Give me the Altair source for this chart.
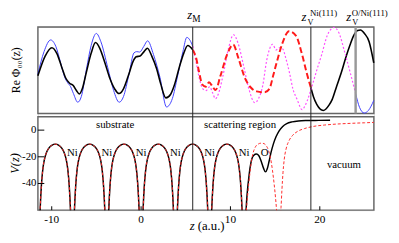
import altair as alt
import pandas as pd

FONT = "Liberation Serif"

# ---------------- axes / domains ----------------
X_DOMAIN = [-11.55, 26.05]
X_TICKS = [-10, 0, 10, 20]
TOP_DOMAIN = [-1.0, 1.0]
V_DOMAIN = [-60, 10]
V_TICKS = [0, -20, -40]

Z_M = 5.78
Z_V_NI = 19.00
Z_V_ONI = 24.01

# ---------------- top panel: Re Phi_00(z) ----------------
blue_sub_z = [-11.55, -10.86, -10.12, -9.54, -8.99, -8.55, -8.22, -7.89, -7.57, -7.09,
              -6.69, -6.11, -5.59, -5.01, -4.50, -3.73, -3.07, -2.45, -1.97, -1.35,
              -0.80, -0.49, -0.16, 0.30, 0.73, 1.39, 2.12, 2.85, 3.51, 4.06,
              4.68, 5.12, 5.48, 5.78]
blue_sub_v = [-0.09, 0.43, 0.70, 0.55, 0.16, -0.16, -0.29, -0.38, -0.54, -0.74,
              -0.61, 0.03, 0.57, 0.85, 0.66, 0.06, -0.47, -0.74, -0.61, -0.09,
              0.40, 0.43, 0.42, 0.55, 0.68, 0.36, -0.17, -0.85, -0.65, -0.16,
              0.43, 0.76, 0.69, 0.55]
blue_vac_z = [24.01, 24.45, 24.97, 25.44, 26.04]
blue_vac_v = [-0.54, -0.86, -0.99, -0.93, -0.70]

black_sub_z = [-11.55, -10.75, -9.98, -9.43, -8.88, -8.44, -8.00, -7.57, -7.24, -6.91,
               -6.58, -6.14, -5.59, -5.10, -4.61, -4.06, -3.51, -2.96, -2.47, -1.97,
               -1.43, -0.88, -0.55, -0.11, 0.33, 0.71, 1.21, 1.75, 2.19, 2.77,
               3.29, 3.73, 4.28, 4.77, 5.23, 5.78]
black_sub_v = [-0.13, 0.32, 0.52, 0.39, 0.07, -0.18, -0.30, -0.36, -0.47, -0.55,
               -0.43, -0.06, 0.39, 0.64, 0.50, 0.18, -0.18, -0.43, -0.54, -0.43,
               -0.13, 0.21, 0.31, 0.33, 0.43, 0.51, 0.32, 0.03, -0.31, -0.64,
               -0.56, -0.34, 0.07, 0.39, 0.57, 0.47]
black_vac_z = [19.00, 19.30, 19.66, 20.39, 21.05, 21.38, 21.87, 22.40, 22.92, 23.36,
               23.79, 24.23, 24.56, 25.00, 25.52, 26.04]
black_vac_v = [-0.40, -0.62, -0.79, -0.93, -0.80, -0.68, -0.38, -0.06, 0.30, 0.57,
               0.80, 0.92, 0.93, 0.85, 0.66, 0.17]

red_z = [5.78, 6.14, 6.47, 6.85, 7.24, 7.60, 8.00, 8.33, 8.88, 9.62,
         10.31, 10.89, 11.62, 12.28, 12.94, 13.82, 14.36, 14.80, 15.27, 15.79,
         16.56, 17.32, 18.02, 18.53, 19.00]
red_v = [0.47, 0.30, -0.02, -0.33, -0.38, -0.28, -0.38, -0.46, -0.13, 0.36,
         0.59, 0.28, -0.18, -0.40, -0.49, -0.51, -0.43, -0.11, 0.25, 0.61,
         0.90, 0.80, 0.36, -0.06, -0.40]

mag_z = [5.78, 6.14, 6.50, 6.91, 7.29, 7.68, 8.00, 8.33, 8.66, 9.16,
         9.79, 10.34, 10.86, 11.44, 12.06, 12.72, 13.16, 13.63, 14.04, 14.36,
         14.73, 15.10, 15.46, 15.82, 16.23, 16.61, 16.99, 17.47, 18.02, 18.42,
         19.08, 19.63, 20.21, 20.83, 21.60, 22.15, 22.77, 23.36, 24.01]
mag_v = [0.55, 0.21, -0.17, -0.43, -0.47, -0.38, -0.52, -0.66, -0.54, -0.13,
         0.51, 0.82, 0.62, 0.13, -0.43, -0.75, -0.65, -0.34, 0.21, 0.48,
         0.60, 0.47, 0.52, 0.50, 0.25, -0.06, -0.43, -0.68, -0.91, -0.79,
         -0.40, -0.02, 0.36, 0.80, 0.99, 0.86, 0.43, -0.02, -0.54]

# ---------------- bottom panel: V(z) ----------------
# one substrate arch: offset from its top, value
arch_d = [0.0, 0.4, 0.7, 0.9, 1.1, 1.25, 1.38, 1.48, 1.56, 1.63, 1.70, 1.76]
arch_v = [-10.5, -11.4, -13.3, -15.5, -19.0, -23.0, -28.5, -35.0, -42.0, -50.0, -60.0, -70.0]
arch_tops = [-9.60, -5.76, -1.92, 1.92, 5.76, 9.60]

black_o_z = [11.72, 11.80, 11.92, 12.05, 12.20, 12.40, 12.62, 12.90, 13.18, 13.45,
             13.70, 13.92, 14.12, 14.32, 14.55, 14.80, 15.10, 15.45, 15.85, 16.30,
             16.90, 17.60, 18.50, 19.50, 21.15]
black_o_v = [-64, -54, -44, -36, -28, -21.5, -18.8, -17.9, -19.2, -23.5,
             -28.5, -31.3, -29, -23.5, -16.5, -10.5, -5, -0.5, 2.8, 4.9,
             6.2, 6.9, 7.2, 7.3, 7.4]

red_o_z = [11.74, 11.85, 11.95, 12.05, 12.20, 12.35, 12.55, 12.80, 13.10, 13.40,
           13.65, 14.00, 14.25, 14.50, 14.70, 14.90, 15.05, 15.15, 15.22]
red_o_v = [-64, -54, -47, -40, -31, -23, -16.8, -12.5, -10.5, -9.8,
           -9.9, -11.6, -15, -21.5, -30, -41, -51, -59, -66]

red_t_z = [15.58, 15.66, 15.76, 15.88, 16.02, 16.25, 16.55, 16.95, 17.50, 18.30,
           19.30, 20.50, 22.00, 23.50, 25.00, 26.05]
red_t_v = [-66, -58, -45, -32, -22, -13.5, -8, -4, -1, 1.2,
           2.8, 3.8, 4.6, 5.1, 5.5, 5.8]

region_text = ["substrate", "scattering region", "vacuum"]
region_z = [-2.91, 11.08, 22.70]
region_V = [1.8, 1.8, -28.4]

atom_text = ["Ni", "Ni", "Ni", "Ni", "Ni", "Ni", "O"]
atom_z = [-7.68, -3.84, 0.0, 3.84, 7.68, 11.52, 13.83]
atom_V = [-19.6, -19.6, -19.6, -19.6, -19.6, -19.6, -19.4]

# ---------------- layout ----------------
W = 343
H = 187
TOP_PX = 88.3
BOT_TOP_PX = 91.7

sc_x = alt.Scale(domain=X_DOMAIN, nice=False, zero=False)
sc_top = alt.Scale(domain=TOP_DOMAIN, range=[TOP_PX, 0], nice=False, zero=False)
sc_bot = alt.Scale(domain=V_DOMAIN, range=[H, BOT_TOP_PX], nice=False, zero=False)


def X(f="z"):
    return alt.X(f + ":Q", scale=sc_x, axis=None)


def YT(f="v"):
    return alt.Y(f + ":Q", scale=sc_top, axis=None)


def YB(f="v"):
    return alt.Y(f + ":Q", scale=sc_bot, axis=None)


def series(segments):
    rows = []
    for s, (zs, vs) in enumerate(segments):
        for z, v in zip(zs, vs):
            rows.append({"z": z, "v": v, "seg": s})
    return pd.DataFrame(rows)


def top_line(df, **kw):
    return alt.Chart(df).mark_line(interpolate="monotone", **kw).encode(
        x=X(), y=YT(), detail="seg:N")


def bot_line(df, **kw):
    return alt.Chart(df).mark_line(interpolate="monotone", clip=True, **kw).encode(
        x=X(), y=YB(), detail="seg:N")


def note(z, text, dx, ypx, size, style="normal", align="center"):
    return alt.Chart(pd.DataFrame({"z": [z], "t": [text]})).mark_text(
        dx=dx, align=align, baseline="alphabetic", font=FONT, fontSize=size,
        fontStyle=style, color="black").encode(x=X(), y=alt.value(ypx), text="t:N")


def free_text(text, xpx, ypx, size, style="normal", align="center", angle=0):
    return alt.Chart(pd.DataFrame({"t": [text]})).mark_text(
        font=FONT, fontSize=size, fontStyle=style, baseline="alphabetic", align=align,
        angle=angle, color="black").encode(x=alt.value(xpx), y=alt.value(ypx), text="t:N")


# ---------------- top panel ----------------
top_frame = alt.Chart(pd.DataFrame({"x1": [X_DOMAIN[0]], "x2": [X_DOMAIN[1]],
                                    "y1": [TOP_DOMAIN[0]], "y2": [TOP_DOMAIN[1]]})).mark_rect(
    filled=False, stroke="#666666", strokeWidth=1.4).encode(
    x=X("x1"), x2="x2:Q", y=YT("y1"), y2="y2:Q")

blue = top_line(series([(blue_sub_z, blue_sub_v), (blue_vac_z, blue_vac_v)]),
                color="#3f3fff", strokeWidth=1)
black = top_line(series([(black_sub_z, black_sub_v), (black_vac_z, black_vac_v)]),
                 color="black", strokeWidth=1.6)
magenta = top_line(series([(mag_z, mag_v)]), color="#ff4dff", strokeWidth=1.2,
                   strokeDash=[2, 2])
red = top_line(series([(red_z, red_v)]), color="#ff1a1a", strokeWidth=2,
               strokeDash=[6, 3])

zv2_line = alt.Chart(pd.DataFrame({"z": [Z_V_ONI]})).mark_rule(
    color="#999999", strokeWidth=2.5).encode(x=X(), y=alt.value(0), y2=alt.value(TOP_PX))

notes = [
    note(Z_M, "z", -3, -8, 13, "italic"),
    note(Z_M, "M", -0.5, -5, 9.5, align="left"),
    note(Z_V_NI, "z", -7, -6.5, 13, "italic"),
    note(Z_V_NI, "V", -3.5, -1.8, 8.5, align="left"),
    note(Z_V_NI, "Ni(111)", -1, -10.8, 9, align="left"),
    note(Z_V_ONI, "z", -7, -6.5, 13, "italic"),
    note(Z_V_ONI, "V", -3.5, -1.8, 8.5, align="left"),
    note(Z_V_ONI, "O/Ni(111)", -4, -10.8, 9, align="left"),
]

top_title = free_text("Re Φ₀₀(z)", -18.5, TOP_PX / 2, 12, angle=270)

top = alt.layer(top_frame, blue, black, magenta, red, zv2_line, top_title, *notes)

# ---------------- bottom panel ----------------
bot_frame = alt.Chart(pd.DataFrame({"x1": [X_DOMAIN[0]], "x2": [X_DOMAIN[1]],
                                    "y1": [V_DOMAIN[0]], "y2": [V_DOMAIN[1]]})).mark_rect(
    filled=False, stroke="#666666", strokeWidth=1.4).encode(
    x=X("x1"), x2="x2:Q", y=YB("y1"), y2="y2:Q")

arch_segments = []
for c in arch_tops:
    zs = [c - d for d in arch_d[::-1]] + [c + d for d in arch_d[1:]]
    vs = arch_v[::-1] + arch_v[1:]
    arch_segments.append((zs, vs))

pot_black = bot_line(series(arch_segments + [(black_o_z, black_o_v)]),
                     color="black", strokeWidth=1.5)
pot_red = bot_line(series(arch_segments + [(red_o_z, red_o_v), (red_t_z, red_t_v)]),
                   color="#ff2a2a", strokeWidth=1, strokeDash=[3, 2])

x_ticks = alt.Chart(pd.DataFrame({"z": X_TICKS})).mark_rule(
    color="black", strokeWidth=1).encode(
    x=X(), y=YB("a"), y2="b:Q").transform_calculate(
    a=str(V_DOMAIN[0]), b=str(V_DOMAIN[0] + 2.9))
y_ticks = alt.Chart(pd.DataFrame({"V": V_TICKS})).mark_rule(
    color="black", strokeWidth=1).encode(
    x=X("a"), x2="b:Q", y=YB("V")).transform_calculate(
    a=str(X_DOMAIN[0]), b=str(X_DOMAIN[0] + 0.72))

x_labels = alt.Chart(pd.DataFrame({"z": X_TICKS, "t": [str(t) for t in X_TICKS]})).mark_text(
    font=FONT, fontSize=11.5, baseline="top", align="center", color="black").encode(
    x=X(), y=alt.value(H + 4.5), text="t:N")
y_labels = alt.Chart(pd.DataFrame({"V": V_TICKS, "t": [str(t) for t in V_TICKS]})).mark_text(
    font=FONT, fontSize=11, baseline="middle", align="right", color="black").encode(
    x=alt.value(-1.5), y=YB("V"), text="t:N")

regions = alt.Chart(pd.DataFrame({"z": region_z, "V": region_V, "t": region_text})).mark_text(
    font=FONT, fontSize=11, baseline="alphabetic", color="black").encode(
    x=X(), y=YB("V"), text="t:N")
atoms = alt.Chart(pd.DataFrame({"z": atom_z, "V": atom_V, "t": atom_text})).mark_text(
    font=FONT, fontSize=11, baseline="alphabetic", color="black").encode(
    x=X(), y=YB("V"), text="t:N")

v_title = free_text("V(z)", -19.5, (H + BOT_TOP_PX) / 2, 12.5, style="italic", angle=270)
xt_z = free_text("z", 157.5, 207.5, 13, style="italic")
xt_au = free_text("(a.u.)", 163.2, 207.5, 13, align="left")

bottom = alt.layer(bot_frame, pot_black, pot_red, x_ticks, y_ticks, x_labels, y_labels,
                   regions, atoms, v_title, xt_z, xt_au)

full_lines = alt.Chart(pd.DataFrame({"z": [Z_M, Z_V_NI]})).mark_rule(
    color="#222222", strokeWidth=1).encode(x=X(), y=alt.value(0), y2=alt.value(H))

chart = alt.layer(top, bottom, full_lines).resolve_scale(y="independent").properties(
    width=W, height=H,
    padding={"left": 30.5, "top": 17, "right": 17.5, "bottom": 23},
    autosize=alt.AutoSizeParams(type="none"),
).configure_view(stroke=None).configure(background="white")

chart.save("out.html", embed_options={"renderer": "svg", "actions": False})
